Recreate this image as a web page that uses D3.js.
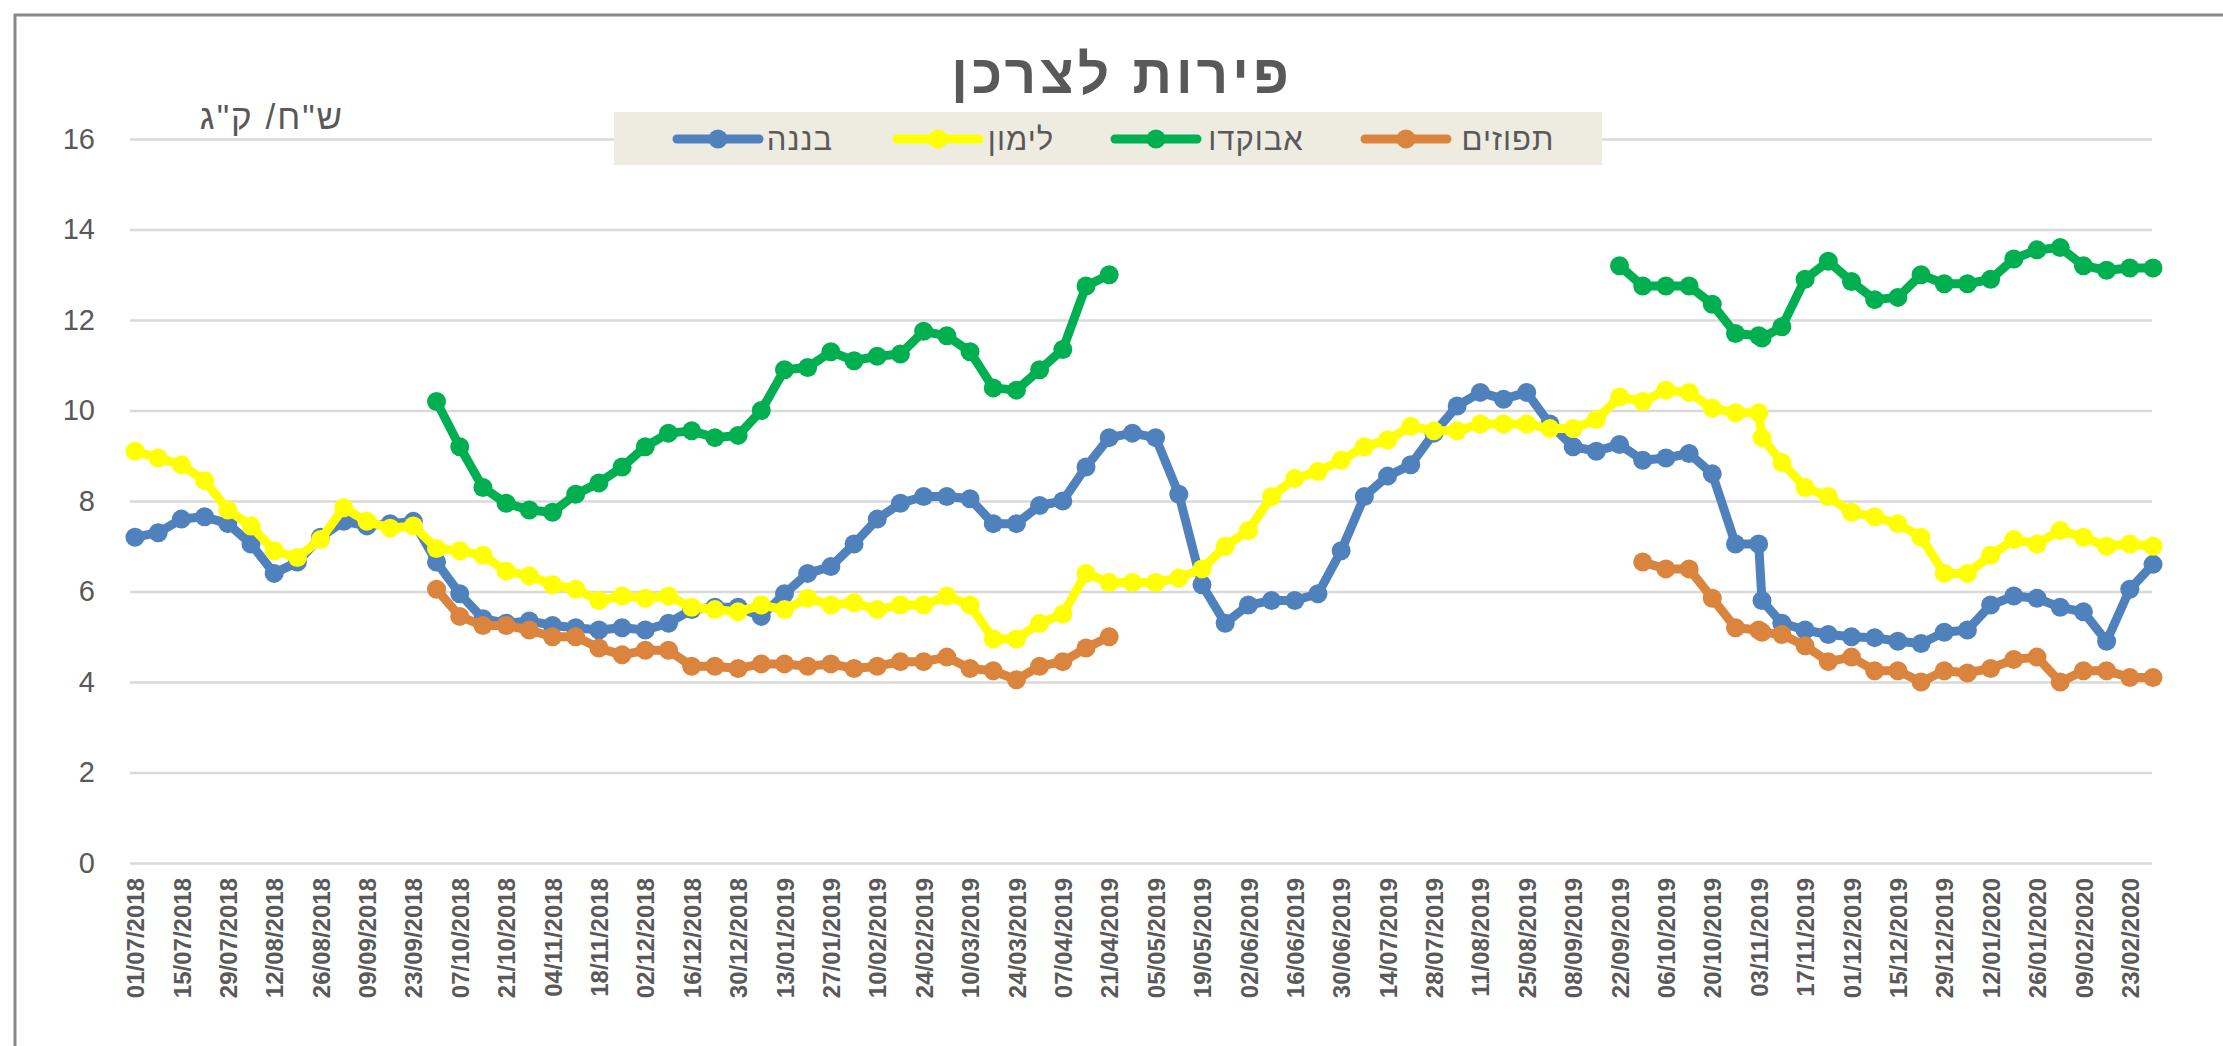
<!DOCTYPE html>
<html>
<head>
<meta charset="utf-8">
<script src="https://cdn.jsdelivr.net/npm/d3@7"></script>
<style>
  body { margin: 0; background: #fff; }
  svg { display: block; }
</style>
</head>
<body>
<svg id="chart"></svg>
<script>
// weekly dates (one extra reading on 04/11/2019)
const dates = [
  "2018-07-01","2018-07-08","2018-07-15","2018-07-22","2018-07-29",
  "2018-08-05","2018-08-12","2018-08-19","2018-08-26",
  "2018-09-02","2018-09-09","2018-09-16","2018-09-23","2018-09-30",
  "2018-10-07","2018-10-14","2018-10-21","2018-10-28",
  "2018-11-04","2018-11-11","2018-11-18","2018-11-25",
  "2018-12-02","2018-12-09","2018-12-16","2018-12-23","2018-12-30",
  "2019-01-06","2019-01-13","2019-01-20","2019-01-27",
  "2019-02-03","2019-02-10","2019-02-17","2019-02-24",
  "2019-03-03","2019-03-10","2019-03-17","2019-03-24","2019-03-31",
  "2019-04-07","2019-04-14","2019-04-21","2019-04-28",
  "2019-05-05","2019-05-12","2019-05-19","2019-05-26",
  "2019-06-02","2019-06-09","2019-06-16","2019-06-23","2019-06-30",
  "2019-07-07","2019-07-14","2019-07-21","2019-07-28",
  "2019-08-04","2019-08-11","2019-08-18","2019-08-25",
  "2019-09-01","2019-09-08","2019-09-15","2019-09-22","2019-09-29",
  "2019-10-06","2019-10-13","2019-10-20","2019-10-27",
  "2019-11-03","2019-11-04","2019-11-10","2019-11-17","2019-11-24",
  "2019-12-01","2019-12-08","2019-12-15","2019-12-22","2019-12-29",
  "2020-01-05","2020-01-12","2020-01-19","2020-01-26",
  "2020-02-02","2020-02-09","2020-02-16","2020-02-23",
  "2020-03-01"
];

const bananas = [
  7.2, 7.3, 7.6, 7.65, 7.5, 7.05, 6.4, 6.65, 7.2, 7.55,
  7.45, 7.5, 7.55, 6.65, 5.95, 5.4, 5.3, 5.35, 5.25, 5.2,
  5.15, 5.2, 5.15, 5.3, 5.6, 5.65, 5.65, 5.45, 5.95, 6.4,
  6.55, 7.05, 7.6, 7.95, 8.1, 8.1, 8.05, 7.5, 7.5, 7.9,
  8.0, 8.75, 9.4, 9.5, 9.4, 8.15, 6.15, 5.3, 5.7, 5.8,
  5.8, 5.95, 6.9, 8.1, 8.55, 8.8, 9.5, 10.1, 10.4, 10.25,
  10.4, 9.7, 9.2, 9.1, 9.25, 8.9, 8.95, 9.05, 8.6, 7.05,
  7.05, 5.8, 5.3, 5.15, 5.05, 5.0, 4.98, 4.9, 4.85, 5.1, 5.15,
  5.7, 5.9, 5.85, 5.65, 5.55, 4.9, 6.05, 6.6
];

const lemons = [
  9.1, 8.95, 8.8, 8.45, 7.8, 7.45, 6.9, 6.75, 7.15, 7.85,
  7.55, 7.4, 7.45, 6.95, 6.9, 6.8, 6.45, 6.35, 6.15, 6.05,
  5.8, 5.9, 5.85, 5.9, 5.65, 5.6, 5.55, 5.7, 5.6, 5.85,
  5.7, 5.75, 5.6, 5.7, 5.7, 5.9, 5.7, 4.95, 4.95, 5.3,
  5.5, 6.4, 6.2, 6.2, 6.2, 6.3, 6.5, 7.0, 7.35, 8.1,
  8.5, 8.65, 8.9, 9.2, 9.35, 9.65, 9.55, 9.55, 9.7, 9.7,
  9.7, 9.6, 9.6, 9.8, 10.3, 10.2, 10.45, 10.4, 10.05, 9.95,
  9.95, 9.4, 8.85, 8.3, 8.1, 7.75, 7.65, 7.5, 7.2, 6.4, 6.4,
  6.8, 7.15, 7.05, 7.35, 7.2, 7.0, 7.05, 7.0
];

const avocados = [
  null, null, null, null, null, null, null, null, null, null,
  null, null, null, 10.2, 9.2, 8.3, 7.95, 7.8, 7.75, 8.15,
  8.4, 8.75, 9.2, 9.5, 9.55, 9.4, 9.45, 10.0, 10.9, 10.95,
  11.3, 11.1, 11.2, 11.25, 11.75, 11.65, 11.3, 10.5, 10.45, 10.9,
  11.35, 12.75, 13.0, null, null, null, null, null, null, null,
  null, null, null, null, null, null, null, null, null, null,
  null, null, null, null, 13.2, 12.75, 12.75, 12.75, 12.35, 11.7,
  11.65, 11.6, 11.85, 12.9, 13.3, 12.85, 12.45, 12.5, 13.0, 12.8, 12.8,
  12.9, 13.35, 13.55, 13.6, 13.2, 13.1, 13.15, 13.15
];

const oranges = [
  null, null, null, null, null, null, null, null, null, null,
  null, null, null, 6.05, 5.45, 5.25, 5.25, 5.15, 5.0, 5.0,
  4.75, 4.6, 4.7, 4.7, 4.35, 4.35, 4.3, 4.4, 4.4, 4.35,
  4.4, 4.3, 4.35, 4.45, 4.45, 4.55, 4.3, 4.25, 4.05, 4.35,
  4.45, 4.75, 5.0, null, null, null, null, null, null, null,
  null, null, null, null, null, null, null, null, null, null,
  null, null, null, null, null, 6.65, 6.5, 6.5, 5.85, 5.2,
  5.15, 5.1, 5.05, 4.8, 4.45, 4.55, 4.25, 4.25, 4.0, 4.25, 4.2,
  4.3, 4.5, 4.55, 4.0, 4.25, 4.25, 4.1, 4.1
];

const tickLabels = [
  "01/07/2018","15/07/2018","29/07/2018","12/08/2018","26/08/2018","09/09/2018",
  "23/09/2018","07/10/2018","21/10/2018","04/11/2018","18/11/2018","02/12/2018",
  "16/12/2018","30/12/2018","13/01/2019","27/01/2019","10/02/2019","24/02/2019",
  "10/03/2019","24/03/2019","07/04/2019","21/04/2019","05/05/2019","19/05/2019",
  "02/06/2019","16/06/2019","30/06/2019","14/07/2019","28/07/2019","11/08/2019",
  "25/08/2019","08/09/2019","22/09/2019","06/10/2019","20/10/2019","03/11/2019",
  "17/11/2019","01/12/2019","15/12/2019","29/12/2019","12/01/2020","26/01/2020",
  "09/02/2020","23/02/2020"
];

const yTicks = [0, 2, 4, 6, 8, 10, 12, 14, 16];

const seriesNames = ["בננה", "לימון", "אבוקדו", "תפוזים"];
const seriesColors = ["#4F81BD", "#FFFF00", "#00B050", "#DB843D"];
const seriesValues = [bananas, lemons, avocados, oranges];

const width = 2223, height = 1046;
const textColor = "#595959";

const svg = d3.select("#chart").attr("width", width).attr("height", height);

// chart frame (only left & top edges fall inside the picture)
svg.append("rect")
  .attr("x", 15).attr("y", 15)
  .attr("width", 2400).attr("height", 1200)
  .attr("fill", "#fff")
  .attr("stroke", "#8a8a8a")
  .attr("stroke-width", 3);

const parseDay = d3.timeParse("%Y-%m-%d");
const parseTick = d3.timeParse("%d/%m/%Y");
const dayDates = dates.map(parseDay);

const x = d3.scaleTime().domain(d3.extent(dayDates)).range([135, 2153]);
const y = d3.scaleLinear().domain([0, 16]).range([863, 139]);

/**
 * Gridlines + y tick labels
 */
const yAxis = svg.append("g")
  .attr("transform", "translate(130,0)")
  .call(d3.axisLeft(y).tickValues(yTicks).tickSize(-(2152 - 130)).tickPadding(35));
yAxis.select(".domain").remove();
yAxis.selectAll("line").attr("stroke", "#d9d9d9").attr("stroke-width", 2.5);
yAxis.selectAll("text")
  .attr("fill", textColor)
  .style("font-family", "'Liberation Sans', sans-serif")
  .style("font-size", "29px");

/**
 * x axis, rotated date labels
 */
const xAxis = svg.append("g")
  .attr("transform", "translate(0,863)")
  .call(d3.axisBottom(x)
    .tickValues(tickLabels.map(parseTick))
    .tickFormat(d3.timeFormat("%d/%m/%Y"))
    .tickSize(0));
xAxis.select(".domain").remove();
xAxis.selectAll("text")
  .attr("transform", "rotate(-90)")
  .attr("text-anchor", "end")
  .attr("x", -15)
  .attr("y", 0)
  .attr("dy", "0.36em")
  .attr("fill", textColor)
  .style("font-family", "'Liberation Sans', Arial, sans-serif")
  .style("font-weight", "bold")
  .style("font-size", "24px");

/**
 * Series lines with markers
 */
const line = d3.line()
  .defined(d => d.v != null)
  .x(d => x(d.date))
  .y(d => y(d.v));

seriesValues.forEach((vals, k) => {
  const pts = vals.map((v, i) => ({ date: dayDates[i], v: v }));
  const g = svg.append("g");
  g.append("path")
    .datum(pts)
    .attr("d", line)
    .attr("fill", "none")
    .attr("stroke", seriesColors[k])
    .attr("stroke-width", 9)
    .attr("stroke-linejoin", "round")
    .attr("stroke-linecap", "round");
  g.selectAll("circle")
    .data(pts.filter(d => d.v != null))
    .enter()
    .append("circle")
    .attr("cx", d => x(d.date))
    .attr("cy", d => y(d.v))
    .attr("r", 9.5)
    .attr("fill", seriesColors[k]);
});

/**
 * Title and unit label
 */
svg.append("text")
  .attr("x", 1122).attr("y", 93)
  .attr("text-anchor", "middle")
  .attr("fill", textColor)
  .style("font-family", "'Liberation Sans', Arial, sans-serif")
  .style("font-weight", "bold")
  .style("font-size", "55px")
  .style("letter-spacing", "4px")
  .text("פירות לצרכן");

svg.append("text")
  .attr("x", 272).attr("y", 129)
  .attr("text-anchor", "middle")
  .attr("fill", textColor)
  .style("font-family", "'Liberation Sans', Arial, sans-serif")
  .style("font-size", "35px")
  .style("letter-spacing", "2px")
  .text('ש"ח/ ק"ג');

/**
 * Legend
 */
const legendLineX = [673, 893, 1111, 1361];
const legendTextX = [800, 1021, 1256, 1508];
const legend = svg.append("g");
legend.append("rect")
  .attr("x", 614).attr("y", 112)
  .attr("width", 988).attr("height", 53)
  .attr("fill", "#EEECE1");

seriesNames.forEach((name, k) => {
  const lx = legendLineX[k];
  legend.append("line")
    .attr("x1", lx + 4).attr("x2", lx + 86)
    .attr("y1", 139).attr("y2", 139)
    .attr("stroke", seriesColors[k])
    .attr("stroke-width", 9)
    .attr("stroke-linecap", "round");
  legend.append("circle")
    .attr("cx", lx + 45).attr("cy", 139)
    .attr("r", 9.5)
    .attr("fill", seriesColors[k]);
  legend.append("text")
    .attr("x", legendTextX[k]).attr("y", 150)
    .attr("text-anchor", "middle")
    .attr("fill", textColor)
    .style("font-family", "'Liberation Sans', sans-serif")
    .style("font-size", "31px")
    .style("letter-spacing", "1px")
    .text(name);
});
</script>
</body>
</html>
